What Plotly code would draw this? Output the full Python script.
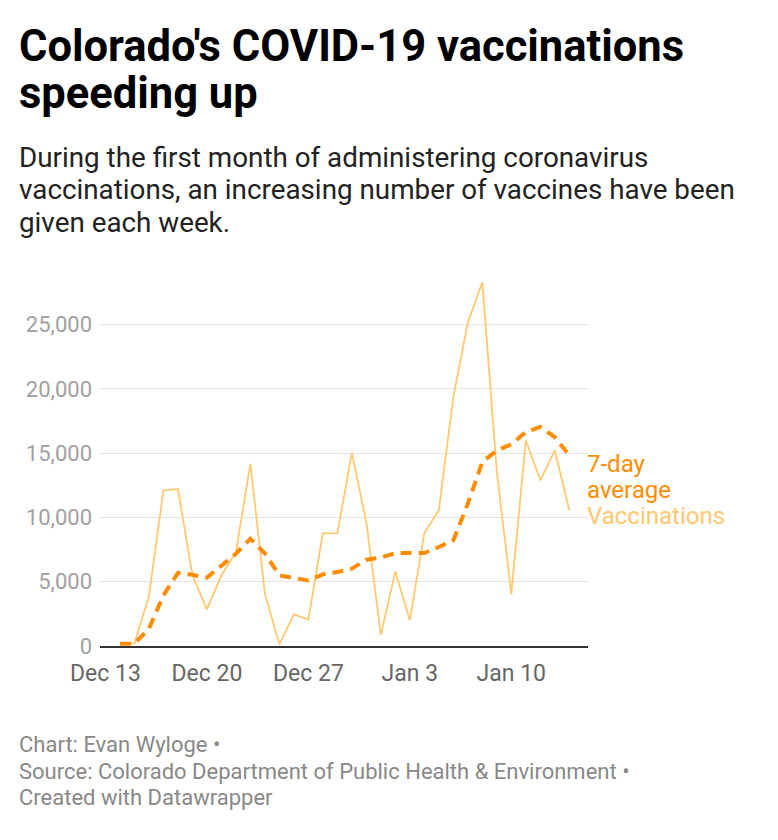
import plotly.graph_objs as go

# Daily COVID-19 vaccinations in Colorado, first month
dates = ["2020-12-14", "2020-12-15", "2020-12-16", "2020-12-17", "2020-12-18",
         "2020-12-19", "2020-12-20", "2020-12-21", "2020-12-22", "2020-12-23",
         "2020-12-24", "2020-12-25", "2020-12-26", "2020-12-27", "2020-12-28",
         "2020-12-29", "2020-12-30", "2020-12-31", "2021-01-01", "2021-01-02",
         "2021-01-03", "2021-01-04", "2021-01-05", "2021-01-06", "2021-01-07",
         "2021-01-08", "2021-01-09", "2021-01-10", "2021-01-11", "2021-01-12",
         "2021-01-13", "2021-01-14"]

vaccinations = [200, 200, 3860, 12100, 12210, 5500, 2850, 5490, 7300, 14170,
                4070, 130, 2460, 2050, 8760, 8780, 15010, 9640, 880, 5800,
                2000, 8790, 10550, 19360, 25140, 28300, 13600, 4020, 16000, 12880,
                15220, 10550]

avg_7day = [180, 180, 1350, 3940, 5680, 5540, 5310, 6270, 7180, 8340,
            7200, 5490, 5280, 5100, 5570, 5750, 6010, 6710, 6870, 7230,
            7230, 7230, 7700, 8220, 11070, 14310, 15210, 15680, 16640, 17030,
            16250, 14830]

tick_dates = ["2020-12-13", "2020-12-20", "2020-12-27", "2021-01-03", "2021-01-10"]
tick_labels = ["Dec 13", "Dec 20", "Dec 27", "Jan 3", "Jan 10"]

y_ticks = [0, 5000, 10000, 15000, 20000, 25000]

# page geometry (pixels); the html body adds an 8px margin
W, H = 778, 840
OFF = 8
PL, PR, PT, PB = 100 - OFF, 588 - OFF, 279 - OFF, 646 - OFF


def px(x):
    return (x - OFF - PL) / (PR - PL)


def py(y):
    return (PB - (y - OFF)) / (PB - PT)


FONT = "Roboto"

fig = go.Figure()

fig.add_trace(go.Scatter(
    x=dates, y=vaccinations, name="Vaccinations", mode="lines",
    line=dict(color="#ffc871", width=1.8),
))
fig.add_trace(go.Scatter(
    x=dates, y=avg_7day, name="7-day average", mode="lines",
    line=dict(color="#ff8c00", width=4, dash="11px,7px"),
))

texts = [
    # (text, x px, y px mid, size, color, bold)
    ("Colorado's COVID-19 vaccinations", 18, 46, 43.5, "#000000", True),
    ("speeding up", 18, 93, 43.5, "#000000", True),
    ("During the first month of administering coronavirus", 18, 157, 27.8, "#222222", False),
    ("vaccinations, an increasing number of vaccines have been", 18, 189.5, 27.8, "#222222", False),
    ("given each week.", 18, 222, 27.8, "#222222", False),
    ("Chart: Evan Wyloge •", 18, 744, 22, "#888888", False),
    ("Source: Colorado Department of Public Health & Environment •", 18, 771, 22, "#888888", False),
    ("Created with Datawrapper", 18, 797, 22, "#888888", False),
    ("7-day", 586, 463.5, 24, "#ff8c00", False),
    ("average", 586, 489.5, 24, "#ff8c00", False),
    ("Vaccinations", 586, 516, 24, "#ffc871", False),
]

annotations = []
for t, x, y, s, c, b in texts:
    annotations.append(dict(
        text="<b>" + t + "</b>" if b else t,
        x=px(x), y=py(y), xref="paper", yref="paper",
        xanchor="left", yanchor="middle", showarrow=False,
        font=dict(family=FONT, size=s, color=c), borderpad=0,
    ))

fig.update_layout(
    width=W, height=H,
    margin=dict(l=PL, r=W - PR, t=PT, b=H - PB, pad=0),
    paper_bgcolor="white", plot_bgcolor="white",
    showlegend=False,
    annotations=annotations,
    font=dict(family=FONT),
    xaxis=dict(
        type="date",
        range=["2020-12-12 15:00", "2021-01-15 07:00"],
        tickvals=tick_dates, ticktext=tick_labels,
        showgrid=False, showline=True, linecolor="#333333", linewidth=2,
        ticks="", tickfont=dict(family=FONT, size=23, color="#666666"),
        ticklabelstandoff=5, zeroline=False,
    ),
    yaxis=dict(
        range=[0, 28540],
        tickvals=y_ticks, tickformat=",",
        showgrid=True, gridcolor="#e3e3e3", gridwidth=1,
        zeroline=False, showline=False, ticks="",
        tickfont=dict(family=FONT, size=22, color="#a0a0a0"),
        ticklabelstandoff=7,
    ),
)

fig.write_html("out.html")
